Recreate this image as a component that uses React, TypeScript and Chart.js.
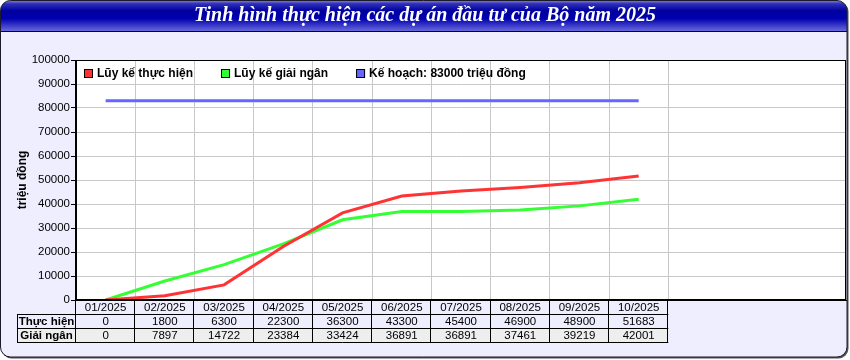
import React, { useEffect, useRef } from 'react';
import { Chart, registerables } from 'chart.js';
Chart.register(...registerables);

const chartTitle = 'Tinh hình thực hiện các dự án đầu tư của Bộ năm 2025';
const months = ['01/2025', '02/2025', '03/2025', '04/2025', '05/2025', '06/2025', '07/2025', '08/2025', '09/2025', '10/2025'];
const thucHien = [0, 1800, 6300, 22300, 36300, 43300, 45400, 46900, 48900, 51683];
const giaiNgan = [0, 7897, 14722, 23384, 33424, 36891, 36891, 37461, 39219, 42001];
const keHoach = [83000, 83000, 83000, 83000, 83000, 83000, 83000, 83000, 83000, 83000];
const seriesLabels = ['Lũy kế thực hiện', 'Lũy kế giải ngân', 'Kế hoạch: 83000 triệu đồng'];
const rowLabels = ['Thực hiện', 'Giải ngân'];
const yTitle = 'triệu đồng';
const yMin = 0;
const yMax = 100000;
const yStep = 10000;
const slotCount = 13;

const FONT = '"Liberation Sans", Arial, sans-serif';

function roundRectPath(ctx: CanvasRenderingContext2D, x: number, y: number, w: number, h: number, r: number) {
  ctx.beginPath();
  ctx.moveTo(x + r, y);
  ctx.lineTo(x + w - r, y);
  ctx.arcTo(x + w, y, x + w, y + r, r);
  ctx.lineTo(x + w, y + h - r);
  ctx.arcTo(x + w, y + h, x + w - r, y + h, r);
  ctx.lineTo(x + r, y + h);
  ctx.arcTo(x, y + h, x, y + h - r, r);
  ctx.lineTo(x, y + r);
  ctx.arcTo(x, y, x + r, y, r);
  ctx.closePath();
}

export default function App() {
  const ref = useRef<HTMLCanvasElement>(null);
  useEffect(() => {
    document.body.style.margin = '0';
    const canvas = ref.current!;
    const W = 850;
    const H = 360;
    const HEADER_H = 31;

    const panelPlugin = {
      id: 'panel',
      beforeDraw(chart: any) {
        const ctx: CanvasRenderingContext2D = chart.ctx;
        const ca = chart.chartArea;
        ctx.save();
        ctx.fillStyle = '#ffffff';
        ctx.fillRect(0, 0, W, H);
        roundRectPath(ctx, 1.5, 1.5, 847, 357, 10);
        ctx.fillStyle = '#555555';
        ctx.fill();
        roundRectPath(ctx, 0.5, 0.5, 846.5, 356.5, 10);
        ctx.fillStyle = '#EEEEFF';
        ctx.fill();
        ctx.save();
        roundRectPath(ctx, 0.5, 0.5, 846.5, 356.5, 10);
        ctx.clip();
        const g = ctx.createLinearGradient(0, 0, 0, HEADER_H);
        g.addColorStop(0, '#9090e8');
        g.addColorStop(0.12, '#3030b8');
        g.addColorStop(0.35, '#0000a0');
        g.addColorStop(0.6, '#0000b0');
        g.addColorStop(1, '#6868dc');
        ctx.fillStyle = g;
        ctx.fillRect(0, 0, W, HEADER_H);
        ctx.fillStyle = '#000033';
        ctx.fillRect(0, HEADER_H, W, 1);
        ctx.restore();
        roundRectPath(ctx, 0.5, 0.5, 846.5, 356.5, 10);
        ctx.strokeStyle = '#1a1a2a';
        ctx.lineWidth = 1;
        ctx.stroke();
        ctx.fillStyle = '#ffffff';
        ctx.font = 'italic bold 20px "Liberation Serif", "Times New Roman", serif';
        ctx.textAlign = 'center';
        ctx.textBaseline = 'middle';
        ctx.fillText(chartTitle, 425, 16);
        ctx.fillStyle = '#ffffff';
        ctx.fillRect(ca.left, ca.top, ca.right - ca.left, ca.bottom - ca.top);
        ctx.restore();
      },
      afterDraw(chart: any) {
        const ctx: CanvasRenderingContext2D = chart.ctx;
        const ca = chart.chartArea;
        const x = chart.scales.x;
        ctx.save();
        ctx.strokeStyle = '#000000';
        ctx.lineWidth = 1;
        const L = Math.round(ca.left) - 0.5;
        const R = Math.round(ca.right) - 0.5;
        const T = Math.round(ca.top) + 0.5;
        const B = Math.round(ca.bottom) - 0.5;
        ctx.strokeRect(L, T, R - L, B - T);

        ctx.font = 'bold 12px ' + FONT;
        ctx.textBaseline = 'middle';
        ctx.textAlign = 'left';
        let lx = 84;
        const ly = 69;
        chart.data.datasets.forEach((ds: any) => {
          ctx.fillStyle = ds.borderColor;
          ctx.fillRect(lx, ly, 9, 9);
          ctx.strokeStyle = '#000';
          ctx.strokeRect(lx + 0.5, ly + 0.5, 8, 8);
          ctx.fillStyle = '#000';
          ctx.fillText(ds.label, lx + 13, ly + 5);
          lx += 13 + ctx.measureText(ds.label).width + 28;
        });

        const colW = x.getPixelForValue(1) - x.getPixelForValue(0);
        const top = Math.round(ca.bottom);
        const rowH = 14;
        const labelL = 17;
        const L0 = x.getPixelForValue(0) - colW / 2;
        const Ln = x.getPixelForValue(months.length - 1) + colW / 2;
        ctx.fillStyle = '#EEEEEE';
        ctx.fillRect(labelL, top + 2 * rowH, Ln - labelL, rowH);
        ctx.strokeStyle = '#000';
        ctx.beginPath();
        for (let r = 1; r <= 3; r++) {
          const yy = top + r * rowH + 0.5;
          ctx.moveTo(labelL, yy);
          ctx.lineTo(Ln, yy);
        }
        ctx.moveTo(labelL + 0.5, top + rowH);
        ctx.lineTo(labelL + 0.5, top + 3 * rowH + 1);
        for (let k = 0; k <= months.length; k++) {
          const xx = Math.round(L0 + k * colW) - 0.5;
          ctx.moveTo(xx, top);
          ctx.lineTo(xx, top + 3 * rowH + 1);
        }
        ctx.stroke();

        ctx.fillStyle = '#000';
        ctx.textAlign = 'center';
        ctx.textBaseline = 'middle';
        ctx.font = '11.5px ' + FONT;
        months.forEach((m, i) => {
          const cx = x.getPixelForValue(i);
          ctx.fillText(m, cx, top + rowH / 2 + 1);
          ctx.fillText(String(thucHien[i]), cx, top + rowH * 1.5 + 1);
          ctx.fillText(String(giaiNgan[i]), cx, top + rowH * 2.5 + 1);
        });
        ctx.font = 'bold 11.5px ' + FONT;
        const lc = (labelL + L0) / 2;
        ctx.fillText(rowLabels[0], lc, top + rowH * 1.5 + 1);
        ctx.fillText(rowLabels[1], lc, top + rowH * 2.5 + 1);
        ctx.restore();
      },
    };

    const chart = new Chart(canvas, {
      type: 'line',
      data: {
        datasets: [
          {
            label: seriesLabels[0],
            data: thucHien.map((v, i) => ({ x: i, y: v })),
            borderColor: '#FF3333',
            backgroundColor: '#FF3333',
            borderWidth: 3,
            pointRadius: 0,
            tension: 0,
          },
          {
            label: seriesLabels[1],
            data: giaiNgan.map((v, i) => ({ x: i, y: v })),
            borderColor: '#33FF33',
            backgroundColor: '#33FF33',
            borderWidth: 3,
            pointRadius: 0,
            tension: 0,
          },
          {
            label: seriesLabels[2],
            data: keHoach.map((v, i) => ({ x: i, y: v })),
            borderColor: '#6666FF',
            backgroundColor: '#6666FF',
            borderWidth: 3,
            pointRadius: 0,
            tension: 0,
          },
        ],
      },
      options: {
        animation: false,
        responsive: false,
        devicePixelRatio: 1,
        layout: { padding: { left: 0, top: 60, right: 4, bottom: 60 } },
        plugins: { legend: { display: false }, tooltip: { enabled: false } },
        scales: {
          x: {
            type: 'linear',
            min: -0.5,
            max: slotCount - 0.5,
            afterBuildTicks: (scale: any) => {
              scale.ticks = months.map((_, i) => ({ value: i + 0.5 }));
            },
            afterFit: (scale: any) => {
              scale.height = 0;
            },
            ticks: { display: false },
            grid: { color: '#C8C8C8', drawTicks: false },
            border: { display: true, color: '#000000', width: 1 },
          },
          y: {
            min: yMin,
            max: yMax,
            afterFit: (scale: any) => {
              scale.width = 76;
            },
            ticks: {
              stepSize: yStep,
              padding: 1,
              color: '#000000',
              font: { family: FONT, size: 11.5 },
              callback: (v: any) => String(v),
            },
            grid: { color: '#C8C8C8', tickColor: '#000000', tickLength: 5 },
            border: { display: true, color: '#000000', width: 1 },
            title: {
              display: true,
              text: yTitle,
              color: '#000000',
              font: { family: FONT, size: 12, weight: 'bold' },
              padding: { top: 15, bottom: 0 },
            },
          },
        },
      },
      plugins: [panelPlugin],
    } as any);
    return () => chart.destroy();
  }, []);
  return <canvas ref={ref} width={850} height={360} style={{ display: 'block' }} />;
}
